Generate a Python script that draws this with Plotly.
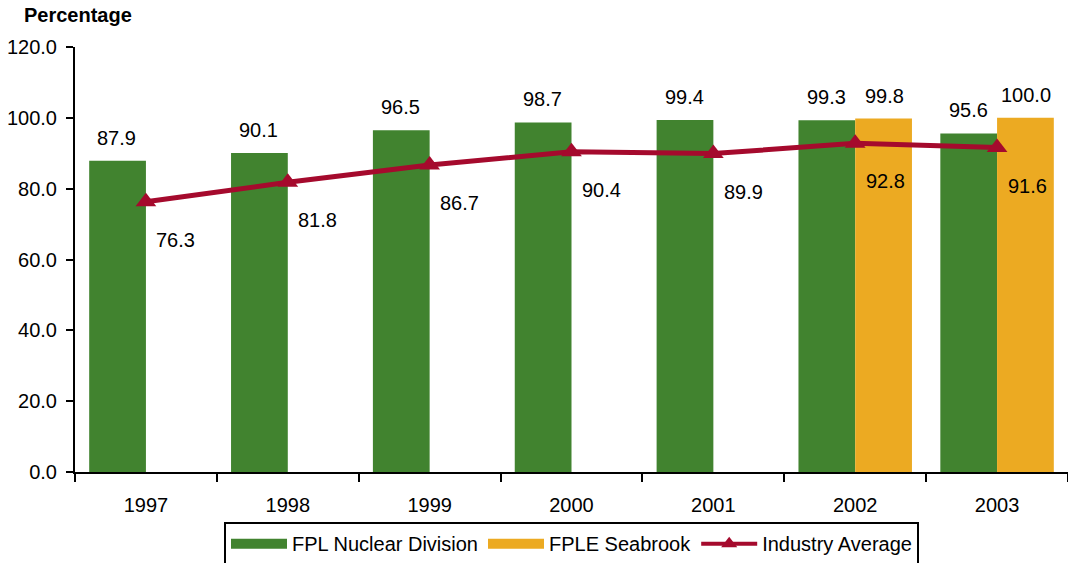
import plotly.graph_objects as go

years = ["1997", "1998", "1999", "2000", "2001", "2002", "2003"]
fpl_nuclear = [87.9, 90.1, 96.5, 98.7, 99.4, 99.3, 95.6]
fple_seabrook = [None, None, None, None, None, 99.8, 100.0]
industry_avg = [76.3, 81.8, 86.7, 90.4, 89.9, 92.8, 91.6]
y_ticks = [0, 20, 40, 60, 80, 100, 120]

GREEN = "#41832F"
ORANGE = "#ECAA22"
RED = "#A50A2D"
FONT = "Liberation Sans, Arial, sans-serif"

fig = go.Figure()
fig.add_trace(go.Bar(x=years, y=fpl_nuclear, name="FPL Nuclear Division",
                     marker=dict(color=GREEN, line=dict(width=0)), showlegend=False))
fig.add_trace(go.Bar(x=years, y=fple_seabrook, name="FPLE Seabrook",
                     marker=dict(color=ORANGE, line=dict(width=0)), showlegend=False))
fig.add_trace(go.Scatter(x=years, y=industry_avg, name="Industry Average",
                         mode="lines+markers", showlegend=False,
                         line=dict(color=RED, width=5),
                         marker=dict(symbol="triangle-up", size=18, color=RED)))

# legend entries (wide rectangular swatches like the original)
fig.add_trace(go.Scatter(x=[None], y=[None], mode="lines", name="FPL Nuclear Division",
                         line=dict(color=GREEN, width=12)))
fig.add_trace(go.Scatter(x=[None], y=[None], mode="lines", name="FPLE Seabrook",
                         line=dict(color=ORANGE, width=12)))
fig.add_trace(go.Scatter(x=[None], y=[None], mode="lines+markers", name="Industry Average",
                         line=dict(color=RED, width=4),
                         marker=dict(symbol="triangle-up", size=14, color=RED)))

annotations = []
for i, v in enumerate(fpl_nuclear):
    annotations.append(dict(x=i, y=v, xref="x", yref="y", text=f"{v:.1f}",
                            showarrow=False, xshift=-29, yshift=23,
                            yanchor="middle", xanchor="center"))
for i, v in enumerate(fple_seabrook):
    if v is not None:
        annotations.append(dict(x=i, y=v, xref="x", yref="y", text=f"{v:.1f}",
                                showarrow=False, xshift=29, yshift=23,
                                yanchor="middle", xanchor="center"))
for i, v in enumerate(industry_avg):
    annotations.append(dict(x=i, y=v, xref="x", yref="y", text=f"{v:.1f}",
                            showarrow=False, xshift=30, yshift=-38,
                            yanchor="middle", xanchor="center"))
annotations.append(dict(x=-0.053, y=1.075, xref="paper", yref="paper",
                        text="<b>Percentage</b>", showarrow=False,
                        xanchor="left", yanchor="middle",
                        font=dict(size=20, color="black", family=FONT)))

fig.update_layout(
    width=1068, height=563,
    margin=dict(l=75, r=0, t=47, b=91, autoexpand=False),
    paper_bgcolor="white", plot_bgcolor="white",
    font=dict(family=FONT, size=20, color="black"),
    barmode="group", bargap=0.2, bargroupgap=0,
    showlegend=True,
    legend=dict(orientation="h", x=0.5, xanchor="center", y=-0.118, yanchor="top",
                bordercolor="black", borderwidth=2, bgcolor="white",
                font=dict(size=20, family=FONT), itemwidth=56,
                traceorder="normal"),
    annotations=annotations,
)
fig.update_xaxes(type="category", showline=True, linecolor="black", linewidth=2,
                 ticks="outside", tickson="boundaries", ticklen=8, tickwidth=2,
                 tickcolor="black", showgrid=False, ticklabelstandoff=14,
                 range=[-0.5, 6.5])
fig.update_yaxes(range=[0, 120], tickvals=y_ticks, tickformat=".1f",
                 showline=True, linecolor="black", linewidth=2,
                 ticks="outside", ticklen=7, tickwidth=2, tickcolor="black",
                 showgrid=False, zeroline=False, ticklabelstandoff=5)

fig.write_html("out.html", config={"displayModeBar": False},
               post_script="document.body.style.margin='0px';")
